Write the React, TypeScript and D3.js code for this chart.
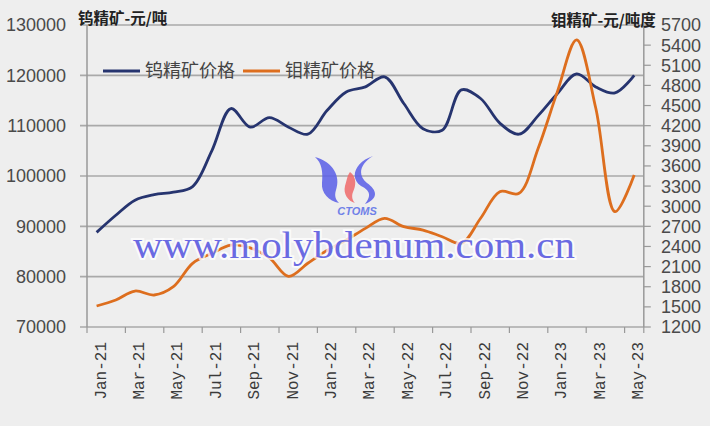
import React from "react";
import * as d3 from "d3";

const months = [
  "Jan-21","Feb-21","Mar-21","Apr-21","May-21","Jun-21","Jul-21","Aug-21","Sep-21","Oct-21","Nov-21","Dec-21",
  "Jan-22","Feb-22","Mar-22","Apr-22","May-22","Jun-22","Jul-22","Aug-22","Sep-22","Oct-22","Nov-22","Dec-22",
  "Jan-23","Feb-23","Mar-23","Apr-23","May-23",
];
const tungsten = [
  88800, 92200, 95200, 96300, 96800, 97900, 105000, 113400, 109700, 111600, 109700, 108300,
  113000, 116700, 117700, 119700, 114400, 109400, 109100, 117100, 115400, 110500, 108300, 112000,
  116400, 120300, 117700, 116500, 120000,
];
const molybdenum = [
  1513, 1602, 1736, 1677, 1800, 2149, 2298, 2420, 2380, 2230, 1955, 2150,
  2340, 2496, 2670, 2820, 2695, 2645, 2545, 2447, 2820, 3216, 3192, 3863,
  4707, 5477, 4459, 2918, 3465,
];
const leftTicks = [70000, 80000, 90000, 100000, 110000, 120000, 130000];
const rightTicks = [1200,1500,1800,2100,2400,2700,3000,3300,3600,3900,4200,4500,4800,5100,5400,5700];
const seriesNames = ["钨精矿价格", "钼精矿价格"];
const leftTitle = "钨精矿-元/吨";
const rightTitle = "钼精矿-元/吨度";
const watermark = "www.molybdenum.com.cn";

export default function App() {
  const L = 87, R = 643.8, T = 25, B = 327;
  const x = d3.scaleBand<string>().domain(months).range([L, R]).padding(0);
  const bw = x.bandwidth();
  const cx = (m: string) => (x(m) as number) + bw / 2;
  const yL = d3.scaleLinear().domain([70000, 130000]).range([B, T]);
  const yR = d3.scaleLinear().domain([1200, 5700]).range([B, T]);
  const lineL = d3.line<number>().x((_, i) => cx(months[i])).y((d) => yL(d)).curve(d3.curveCatmullRom.alpha(0.5));
  const lineR = d3.line<number>().x((_, i) => cx(months[i])).y((d) => yR(d)).curve(d3.curveCatmullRom.alpha(0.5));
  const sans = "'Liberation Sans', Arial, sans-serif";
  const cjk = "'Noto Sans CJK SC', sans-serif";
  const blue = "#26346f";
  const orange = "#dd6e1e";
  const grid = "#a9a9a9";

  return (
    <svg width={710} height={426} style={{ position: "absolute", left: 0, top: 0 }}>
      <rect x={0} y={0} width={710} height={426} fill="#eeeeee" />
      {/* gridlines */}
      {leftTicks.map((t) => (
        <line key={t} x1={L - 7} x2={R} y1={yL(t)} y2={yL(t)} stroke={grid} strokeWidth={1.6} />
      ))}
      {/* axes */}
      <line x1={L} x2={L} y1={T} y2={B} stroke="#999" strokeWidth={1.5} />
      <line x1={R} x2={R} y1={T} y2={B} stroke="#999" strokeWidth={1.5} />
      {rightTicks.map((t) => (
        <line key={t} x1={R} x2={R + 7} y1={yR(t)} y2={yR(t)} stroke="#999" strokeWidth={1.2} />
      ))}
      {months.map((m, i) =>
        i % 2 === 0 ? (
          <line key={m} x1={x(m) as number} x2={x(m) as number} y1={B} y2={B + 6} stroke="#999" strokeWidth={1.2} />
        ) : null
      )}
      <line x1={R} x2={R} y1={B} y2={B + 6} stroke="#999" strokeWidth={1.2} />
      {/* left labels */}
      {leftTicks.map((t) => (
        <text key={t} x={66} y={yL(t)} dy="0.36em" textAnchor="end" fontFamily={sans} fontSize={18} fill="#4a4a4a">
          {t}
        </text>
      ))}
      {rightTicks.map((t) => (
        <text key={t} x={661} y={yR(t)} dy="0.36em" textAnchor="start" fontFamily={sans} fontSize={18} fill="#4a4a4a">
          {t}
        </text>
      ))}
      {months.map((m, i) =>
        i % 2 === 0 ? (
          <text
            key={m}
            transform={`translate(${cx(m) + 9},${B + 15}) rotate(-90)`}
            textAnchor="end"
            fontFamily="'Liberation Mono', monospace"
            fontSize={16}
            fill="#3a3a3a"
          >
            {m}
          </text>
        ) : null
      )}
      {/* titles */}
      <text x={78} y={24} fontFamily={cjk} fontWeight="bold" fontSize={15.5} fill="#222">{leftTitle}</text>
      <text x={551} y={26} fontFamily={cjk} fontWeight="bold" fontSize={15.5} fill="#222">{rightTitle}</text>
      {/* legend */}
      <line x1={103} x2={140} y1={71} y2={71} stroke={blue} strokeWidth={3} />
      <text x={145} y={71} dy="0.36em" fontFamily={cjk} fontSize={18} fill="#444">{seriesNames[0]}</text>
      <line x1={243} x2={280} y1={71} y2={71} stroke={orange} strokeWidth={3} />
      <text x={285} y={71} dy="0.36em" fontFamily={cjk} fontSize={18} fill="#444">{seriesNames[1]}</text>
      {/* logo watermark */}
      <g opacity={0.85}>
        <path d="M315,157 C333,162 341,176 336,190 C334,196 336,200 339,203 C329,201 321,193 322,183 C323,172 322,163 315,157 Z" fill="#5a5ee8" />
        <path d="M350,172 C357,177 356,186 353,192 C351,197 353,201 355,203 C348,201 343,194 345,186 C347,180 347,176 350,172 Z" fill="#f06a6a" />
        <path d="M373,156 C360,164 357,175 367,183 C377,190 379,198 365,204 C371,196 371,191 361,186 C349,178 355,162 373,156 Z" fill="#5a5ee8" />
        <text x={357} y={215} textAnchor="middle" fontFamily={sans} fontStyle="italic" fontWeight="bold" fontSize={11} fill="#5a6ee8">CTOMS</text>
      </g>
      {/* series */}
      <path d={lineL(tungsten) || ""} fill="none" stroke={blue} strokeWidth={2.8} strokeLinejoin="round" />
      <path d={lineR(molybdenum) || ""} fill="none" stroke={orange} strokeWidth={2.8} strokeLinejoin="round" />
      {/* text watermark */}
      <text
        x={133}
        y={258}
        textLength={442}
        lengthAdjust="spacingAndGlyphs"
        fontFamily="'Liberation Serif', serif"
        fontSize={37}
        fill="#6a6ae2"
        stroke="#ffffff"
        strokeWidth={4}
        strokeOpacity={0.75}
        paintOrder="stroke"
      >
        {watermark}
      </text>
    </svg>
  );
}
